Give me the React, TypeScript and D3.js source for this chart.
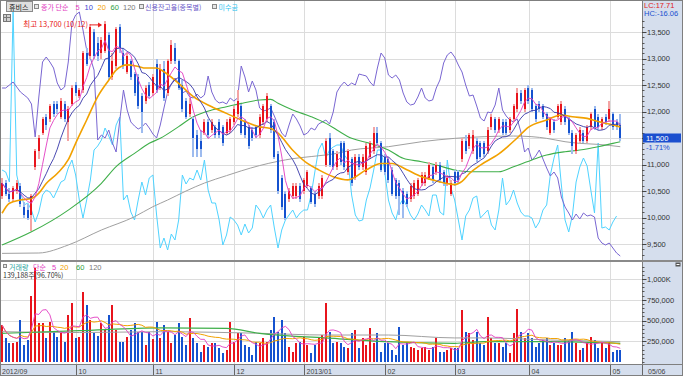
import React from 'react';
import * as d3 from 'd3';

const MONTH_LABELS = ['2012/09', '10', '11', '12', '2013/01', '02', '03', '04', '05'];
const MONTH_START = [0, 21, 42, 64, 83, 105, 124, 144, 166];
const LAST_DATE = '05/06';

const PRICE_TICKS = [9500, 10000, 10500, 11000, 11500, 12000, 12500, 13000, 13500];
const VOLUME_TICKS = [250, 500, 750, 1000];
const VOLUME_TICK_LABELS = ['250,000', '500,000', '750,000', '1,000K'];

const OPEN = [
  10400,10650,10450,10350,10500,10600,10200,10150,10050,10950,
  11250,11600,11900,11850,12150,12150,11900,12150,11800,12150,
  12500,12300,12400,13100,13050,13500,13300,13100,13150,13450,
  12650,12850,13600,13100,12750,12950,12700,12650,12300,12200,
  12500,12350,12900,12450,12800,12350,12950,13200,12950,12500,
  12200,11950,11850,11550,11450,11600,11800,11650,11700,11800,
  11700,11600,11650,11800,11950,12100,11800,11700,11650,11700,
  11550,11800,11850,12100,11800,11200,10750,10450,10350,10400,
  10400,10600,10500,10600,10550,10450,10400,10400,11000,11500,
  11250,10950,11400,11400,10850,11100,10750,11150,10950,10850,
  11150,11250,11600,11400,11150,11100,10900,10700,10650,10500,
  10450,10350,10400,10450,10650,10650,10750,10950,10850,11000,
  10850,10650,10450,10850,10850,11100,11450,11350,11250,11450,
  11400,11400,11250,11700,11850,11650,11800,11800,11650,11850,
  12050,12350,12050,12450,12400,12100,12150,12100,11950,11600,
  11800,11900,11800,12050,11850,11600,11250,11450,11600,11450,
  11700,12050,11900,11700,11900,11850,11950,11800,11750,
];
const CLOSE = [
  10650,10450,10350,10550,10650,10250,10050,10000,10400,11250,
  11500,11850,11750,12100,11950,12050,12200,11850,12050,12450,
  12350,12400,13100,12900,13600,13050,13050,13350,13650,12650,
  12950,13550,13200,12850,13050,12650,12350,12100,12000,12450,
  12300,12650,12400,12800,12250,12950,13250,12950,12450,12050,
  11900,12150,11500,11300,11300,11800,11550,11800,11550,11550,
  11400,11800,11850,12050,12200,11600,11550,11350,11500,11550,
  11900,12100,12300,11650,11150,10500,10200,10000,10500,10600,
  10600,10350,10700,10850,10300,10250,10600,10750,11450,11000,
  10950,11200,11050,10950,11250,10650,11150,10950,11150,11350,
  11400,11600,11400,10900,10850,10700,10450,10400,10400,10250,
  10250,10600,10650,10700,10800,10800,11000,10700,11000,10700,
  10650,10750,10650,10650,10700,11450,11250,11550,11550,11100,
  11150,11200,11650,11900,11650,11850,11600,11600,11850,12100,
  12350,12200,12400,12200,12050,11850,12050,11900,11700,11850,
  11650,12100,12150,11800,11600,11350,11550,11650,11450,11700,
  11950,11700,11700,11850,11800,12050,11700,11700,11500,
];
const HIGH = [
  10750,10700,10550,10600,10700,10650,10300,10250,10450,11300,
  11550,11900,11950,12150,12200,12200,12250,12200,12100,12500,
  12550,12450,13150,13200,13650,13550,13400,13400,13700,13500,
  13100,13600,13650,13200,13100,13000,12750,12700,12350,12500,
  12550,12700,13000,12900,12950,13000,13350,13300,13000,12600,
  12250,12250,11900,11650,11650,11850,11850,11850,11750,11850,
  11750,11850,11900,12100,12400,12150,11850,11750,11700,11750,
  11950,12150,12350,12150,11850,11250,10800,10500,10550,10650,
  10650,10650,10750,10900,10600,10500,10650,10800,11500,11600,
  11300,11250,11450,11450,11300,11150,11200,11200,11200,11400,
  11450,11700,11700,11450,11200,11150,10950,10750,10700,10550,
  10500,10650,10700,10750,10850,10850,11050,11000,11050,11050,
  10900,10800,10700,10900,10900,11500,11550,11600,11650,11500,
  11450,11450,11700,11950,11900,11900,11850,11850,11900,12150,
  12450,12400,12450,12500,12450,12150,12200,12150,12000,11900,
  11850,12150,12200,12100,11900,11650,11600,11700,11650,11750,
  12000,12100,11950,11900,11950,12200,12000,11850,11950,
];
const LOW = [
  10350,10400,10300,10300,10450,10200,10000,9950,9750,10900,
  11100,11550,11650,11800,11900,11950,11850,11800,11450,12100,
  12300,12250,12350,12850,13000,13000,12950,13000,13100,12600,
  12600,12800,13100,12800,12700,12600,12300,12050,11600,12150,
  12250,12300,12350,12400,12200,12300,12900,12900,12400,12000,
  11850,11900,11150,11150,11150,11550,11500,11600,11500,11500,
  11350,11550,11600,11750,11900,11550,11500,11300,11450,11500,
  11500,11750,11800,11600,11100,10450,10150,9950,10300,10350,
  10350,10300,10450,10550,10250,10200,10350,10350,10950,10950,
  10900,10900,11000,10900,10800,10600,10700,10900,10900,10800,
  11100,11200,11350,10850,10800,10650,10400,10350,10050,10000,
  10200,10300,10350,10400,10600,10600,10700,10650,10800,10650,
  10600,10600,10400,10600,10650,11050,11200,11300,11200,11050,
  11100,11150,11200,11650,11600,11600,11550,11550,11600,11800,
  12000,12150,12000,12150,12000,11800,12000,11850,11650,11550,
  11600,11850,11750,11750,11550,11200,11200,11400,11400,11400,
  11650,11650,11650,11650,11750,11800,11650,11650,11450,
];
// thousand shares
const VOLUME = [
  446,289,229,229,235,506,205,265,795,1130,
  470,470,289,482,361,305,345,245,566,711,
  289,305,843,687,506,353,313,470,385,566,
  687,385,237,245,305,385,466,361,361,205,
  361,277,482,285,446,365,225,325,466,305,
  205,526,285,225,124,205,185,225,225,165,
  105,145,486,245,346,346,205,185,85,245,
  225,285,245,386,546,365,506,346,185,124,
  225,245,305,205,105,205,305,325,711,365,
  225,245,225,185,165,346,386,165,285,205,
  406,225,346,124,225,225,145,85,426,205,
  225,185,165,145,165,185,145,185,285,124,
  124,145,165,165,165,627,365,346,265,365,
  225,205,546,285,225,225,185,225,105,346,
  637,365,285,346,285,185,225,265,285,205,
  225,205,205,285,265,365,225,145,165,225,
  305,265,165,225,165,245,124,145,145,
];
// 신용잔고율 (index units of the overlay scale)
const CREDIT = [
  172,172,175,178,173,168,165,162,156,123,
  163,198,203,198,192,177,170,173,198,237,
  245,248,230,210,202,190,120,125,122,130,
  117,108,140,170,150,138,134,131,133,137,
  132,126,122,135,152,168,176,182,177,167,
  169,163,162,166,162,165,184,168,160,157,
  158,156,162,159,162,194,183,168,179,170,
  152,149,150,152,144,135,127,123,135,146,
  141,134,125,127,132,130,136,138,140,136,
  148,168,174,178,174,177,175,186,185,184,
  178,174,192,207,202,185,182,185,180,167,
  158,155,156,163,172,162,159,160,172,180,
  197,205,208,203,195,188,175,164,165,154,
  142,139,148,147,155,172,150,144,140,138,
  141,128,108,112,100,104,110,101,92,84,
  88,82,63,53,47,40,46,41,47,44,
  45,43,22,17,15,17,12,7,4,
];
// 미수금 (index units of the overlay scale)
const UNPAID: (number | null)[] = [
  90,88,78,250,85,68,55,57,50,38,
  48,65,70,68,62,70,78,80,92,100,
  85,60,42,60,80,110,114,120,132,124,
  115,135,143,60,65,48,40,60,78,65,
  82,85,45,12,22,10,26,20,40,85,
  76,82,80,90,80,100,70,57,57,40,
  15,25,43,40,35,25,36,27,32,55,
  50,42,50,55,32,12,30,40,45,50,
  42,47,50,50,65,88,110,117,102,110,
  113,115,115,105,100,65,45,39,40,60,
  72,90,110,110,88,60,47,40,55,61,
  54,45,40,46,55,50,44,65,65,48,
  45,100,72,60,40,20,44,50,62,64,
  42,46,50,35,30,50,82,55,60,70,
  57,48,44,44,42,32,38,50,55,85,
  102,115,75,40,28,45,78,93,102,94,
  70,47,117,32,33,30,38,44,null,
];
// moving averages: [candle index, value]
const MA20_PTS: [number, number][] = [
  [0,10080],[2,10270],[5,10330],[8,10360],[10,10460],[12,10640],[15,10830],[18,11090],[20,11400],
  [23,11840],[26,12280],[29,12590],[31,12780],[34,12880],[37,12850],[39,12820],[42,12820],[44,12750],
  [48,12530],[52,12280],[57,12090],[61,11965],[65,11840],[70,11710],[73,11680],[75,11590],[79,11270],
  [83,11020],[86,10900],[90,10770],[94,10710],[99,10900],[103,11020],[106,11020],[110,10900],[114,10770],
  [117,10710],[121,10640],[123,10620],[125,10680],[127,10830],[130,10990],[135,11200],[140,11500],
  [143,11700],[148,11840],[152,11935],[155,11900],[159,11870],[162,11810],[166,11745],[168,11710],
];
const MA60_PTS: [number, number][] = [
  [0,9480],[8,9730],[18,10140],[27,10645],[31,10960],[36,11210],[40,11400],[43,11494],[48,11714],
  [52,11902],[57,12028],[61,12091],[65,12154],[70,12217],[73,12229],[75,12154],[79,12028],[84,11902],
  [88,11776],[91,11651],[95,11494],[100,11399],[105,11273],[109,11116],[114,11053],[118,10990],
  [123,10896],[127,10864],[131,10864],[135,10864],[139,10959],[144,11085],[148,11179],[153,11242],
  [157,11273],[162,11336],[166,11399],[168,11430],
];
const MA120_PTS: [number, number][] = [
  [0,9323],[10,9330],[18,9481],[27,9764],[36,10015],[41,10204],[45,10330],[50,10500],[55,10650],
  [61,10790],[65,10880],[70,10980],[75,11060],[79,11110],[84,11150],[88,11180],[91,11210],[95,11273],
  [105,11336],[114,11430],[123,11493],[131,11525],[139,11537],[144,11525],[148,11493],[153,11430],
  [157,11399],[162,11380],[168,11336],
];
const VMA60_PTS: [number, number][] = [
  [0,345],[21,377],[43,410],[61,405],[70,345],[88,290],[105,245],[123,225],[131,245],[149,245],[168,225],
];
const VMA120_PTS: [number, number][] = [
  [0,365],[21,355],[43,365],[70,346],[88,325],[105,325],[123,290],[131,290],[149,265],[168,245],
];

const HIGH_LABEL = '최고 13,700 (10/12)';
const HIGH_INDEX = 28;
const LC_TEXT = 'LC:17.71';
const HC_TEXT = 'HC:-16.06';
const LAST_PRICE_TEXT = '11,500';
const CHANGE_TEXT = '-1.71%';
const VOLUME_INFO = '139,188주(96.70%)';

const C = {
  up: '#e8141c', upLight: '#f4a3a3', down: '#1552cf', downLight: '#9dbbef',
  ma5: '#e23cc2', ma10: '#3535a8', ma20: '#f2a100', ma60: '#3faf4a', ma120: '#a0a0a0',
  credit: '#7966d2', unpaid: '#4fd3ff', grid: '#dcdcdc', axisBg: '#d5deed', frame: '#7f7f7f',
  text: '#333333',
};

export default function App() {
  const N = CLOSE.length;
  const SLOTS = 174;
  const PLOT_R = 642;
  const x = d3.scaleBand<number>().domain(d3.range(SLOTS)).range([0.2, 640.5]).paddingInner(0.35).paddingOuter(0.175);
  const bw = x.bandwidth();
  const cx = (i: number) => (x(i) as number) + bw / 2;
  const bx = (i: number) => Math.round(cx(i) - 1);
  const gx = (i: number) => Math.floor((x(i) as number) - 1.6) + 0.5;
  const py = d3.scaleLinear().domain([9500, 13500]).range([244, 32]);
  const vy = d3.scaleLinear().domain([0, 1000]).range([362, 279]);
  const oy = d3.scaleLinear().domain([0, 260]).range([260, 0]);

  const sma = (arr: number[], n: number) =>
    arr.map((_, i) => d3.mean(arr.slice(Math.max(0, i - n + 1), i + 1)) as number);
  const ma5 = sma(CLOSE, 5);
  const ma10 = sma(CLOSE, 10);
  const vma5 = sma(VOLUME, 5);
  const vma20 = sma(VOLUME, 20);

  const seriesPath = (vals: (number | null)[], ys: (v: number) => number) =>
    d3.line<number | null>().defined((v) => v != null).x((_, i) => cx(i)).y((v) => ys(v as number))(vals) || '';
  const ptsPath = (pts: [number, number][], ys: (v: number) => number) =>
    d3.line<[number, number]>().x((d) => cx(d[0])).y((d) => ys(d[1])).curve(d3.curveMonotoneX)(pts) || '';

  const minorPrice = d3.range(9200, 14100, 100).filter((v) => py(v) > 20 && py(v) < 258);
  const minorVol = d3.range(0, 1200, 50).filter((v) => vy(v) > 266);

  const kr = "'Noto Sans CJK KR', 'Liberation Sans', sans-serif";
  const num = "'Liberation Sans', 'Noto Sans CJK KR', sans-serif";

  const hx = cx(HIGH_INDEX);
  const hy = py(HIGH[HIGH_INDEX]);

  return (
    <svg width={683} height={376} style={{ position: 'absolute', left: 0, top: 0, background: '#fff' }}
      fontFamily={num}>
      <defs>
        <clipPath id="pc"><rect x={0} y={0} width={PLOT_R} height={260} /></clipPath>
        <clipPath id="vc"><rect x={0} y={262} width={PLOT_R} height={102} /></clipPath>
      </defs>
      <rect x={0} y={0} width={683} height={376} fill="#fff" />

      {/* grid */}
      {PRICE_TICKS.map((t) => (
        <line key={'hg' + t} x1={0} x2={PLOT_R} y1={Math.round(py(t)) + 0.5} y2={Math.round(py(t)) + 0.5} stroke={C.grid} />
      ))}
      {VOLUME_TICKS.map((t) => (
        <line key={'vg' + t} x1={0} x2={PLOT_R} y1={Math.round(vy(t)) + 0.5} y2={Math.round(vy(t)) + 0.5} stroke={C.grid} />
      ))}
      {MONTH_START.slice(1).map((m) => (
        <g key={'mg' + m}>
          <line x1={gx(m)} x2={gx(m)} y1={0} y2={260} stroke={C.grid} />
          <line x1={gx(m)} x2={gx(m)} y1={262} y2={364} stroke={C.grid} />
        </g>
      ))}

      {/* price panel */}
      <g clipPath="url(#pc)">
        <path d={seriesPath(UNPAID, oy)} fill="none" stroke={C.unpaid} strokeWidth={1} />
        <path d={seriesPath(CREDIT, oy)} fill="none" stroke={C.credit} strokeWidth={1} />
        <path d={ptsPath(MA120_PTS, py)} fill="none" stroke={C.ma120} strokeWidth={1} />
        <path d={ptsPath(MA60_PTS, py)} fill="none" stroke={C.ma60} strokeWidth={1.1} />
        {d3.range(N).map((i) => {
          const up = CLOSE[i] >= OPEN[i];
          const top = py(Math.max(OPEN[i], CLOSE[i]));
          const bot = py(Math.min(OPEN[i], CLOSE[i]));
          return (
            <g key={'c' + i} shapeRendering="crispEdges">
              <rect x={bx(i)} y={py(HIGH[i])} width={2} height={Math.max(1, py(LOW[i]) - py(HIGH[i]))}
                fill={up ? C.upLight : C.downLight} />
              <rect x={bx(i)} y={top} width={2} height={Math.max(1, bot - top)} fill={up ? C.up : C.down} />
            </g>
          );
        })}
        <path d={ptsPath(MA20_PTS, py)} fill="none" stroke={C.ma20} strokeWidth={1.6} />
        <path d={seriesPath(ma10, py)} fill="none" stroke={C.ma10} strokeWidth={0.9} />
        <path d={seriesPath(ma5, py)} fill="none" stroke={C.ma5} strokeWidth={0.9} />
      </g>

      {/* high marker */}
      <text x={hx - 17} y={hy + 6} textAnchor="end" fontSize={7.5} fill="#e82020" fontFamily={kr}>{HIGH_LABEL}</text>
      <line x1={hx - 15} x2={hx - 4} y1={hy + 3.5} y2={hy + 3.5} stroke="#e82020" strokeWidth={1} />
      <path d={`M${hx - 3},${hy + 3.5} l-4,-2.5 l0,5 z`} fill="#e82020" />

      {/* volume panel */}
      <g clipPath="url(#vc)">
        {d3.range(N).map((i) => {
          const up = CLOSE[i] >= OPEN[i];
          return (
            <rect key={'v' + i} x={bx(i)} y={vy(VOLUME[i])} width={2} height={vy(0) - vy(VOLUME[i])}
              fill={up ? C.up : C.down} shapeRendering="crispEdges" />
          );
        })}
        <path d={ptsPath(VMA120_PTS, vy)} fill="none" stroke={C.ma120} strokeWidth={1} />
        <path d={ptsPath(VMA60_PTS, vy)} fill="none" stroke={C.ma60} strokeWidth={1.2} />
        <path d={seriesPath(vma20, vy)} fill="none" stroke={C.ma20} strokeWidth={1} />
        <path d={seriesPath(vma5, vy)} fill="none" stroke={C.ma5} strokeWidth={0.9} />
      </g>

      {/* legends */}
      <rect x={6.5} y={1.5} width={26} height={10} fill="#dedede" stroke="#8a8a8a" />
      <text x={9} y={9.8} fontSize={7} fontFamily={kr} fill="#111">휴비스</text>
      <rect x={34.5} y={4.5} width={4} height={4} fill="#e6e6e6" stroke="#888" />
      <text x={41} y={9.8} fontSize={7} fontFamily={kr} fill={C.ma5}>종가 단순</text>
      <text x={75.5} y={9.8} fontSize={7.5} fill={C.ma5}>5</text>
      <text x={84.5} y={9.8} fontSize={7.5} fill="#3c46d2">10</text>
      <text x={97.5} y={9.8} fontSize={7.5} fill={C.ma20}>20</text>
      <text x={110.5} y={9.8} fontSize={7.5} fill="#30a040">60</text>
      <text x={123} y={9.8} fontSize={7.5} fill="#7a7a7a">120</text>
      <rect x={139.5} y={4.5} width={4} height={4} fill="#e6e6e6" stroke="#888" />
      <text x={145} y={9.8} fontSize={7} fontFamily={kr} fill="#6a58c8">신용잔고율(종목별)</text>
      <rect x={212.5} y={4.5} width={4} height={4} fill="#e6e6e6" stroke="#888" />
      <text x={218.5} y={9.8} fontSize={7} fontFamily={kr} fill="#2ec4f0">미수금</text>
      <rect x={3.5} y={14.5} width={7} height={7} fill="#cfcfcf" stroke="#777" />
      <line x1={3.5} x2={10.5} y1={17.5} y2={17.5} stroke="#777" />
      <line x1={6.5} x2={6.5} y1={14.5} y2={21.5} stroke="#777" />

      <rect x={3.5} y={264.5} width={3} height={3} fill="#e6e6e6" stroke="#888" />
      <text x={9} y={269.5} fontSize={7} fontFamily={kr} fill="#2aa3a0">거래량</text>
      <text x={33} y={269.5} fontSize={7} fontFamily={kr} fill={C.ma5}>단순</text>
      <text x={52} y={269.5} fontSize={7.5} fill={C.ma5}>5</text>
      <text x={60} y={269.5} fontSize={7.5} fill={C.ma20}>20</text>
      <text x={76} y={269.5} fontSize={7.5} fill="#30a040">60</text>
      <text x={89} y={269.5} fontSize={7.5} fill="#7a7a7a">120</text>
      <text x={3} y={278} fontSize={7} fontFamily={kr} fill="#333">{VOLUME_INFO}</text>

      {/* right axis panel */}
      <rect x={642} y={0} width={41} height={376} fill={C.axisBg} />
      <line x1={642.5} x2={642.5} y1={0} y2={376} stroke={C.frame} />
      {minorPrice.map((v) => (
        <line key={'mp' + v} x1={642} x2={644.5} y1={Math.round(py(v)) + 0.5} y2={Math.round(py(v)) + 0.5} stroke="#555" />
      ))}
      {PRICE_TICKS.map((t) => (
        <g key={'pt' + t}>
          <line x1={642} x2={646.5} y1={Math.round(py(t)) + 0.5} y2={Math.round(py(t)) + 0.5} stroke="#444" />
          <text x={647} y={py(t) + 2.8} fontSize={7.5} fill={C.text}>{d3.format(',')(t)}</text>
        </g>
      ))}
      {minorVol.map((v) => (
        <line key={'mv' + v} x1={642} x2={644.5} y1={Math.round(vy(v)) + 0.5} y2={Math.round(vy(v)) + 0.5} stroke="#555" />
      ))}
      {VOLUME_TICKS.map((t, k) => (
        <g key={'vt' + t}>
          <line x1={642} x2={646.5} y1={Math.round(vy(t)) + 0.5} y2={Math.round(vy(t)) + 0.5} stroke="#444" />
          <text x={647} y={vy(t) + 2.8} fontSize={7.5} fill={C.text}>{VOLUME_TICK_LABELS[k]}</text>
        </g>
      ))}
      <text x={644} y={7.5} fontSize={7.5} fill="#e02020">{LC_TEXT}</text>
      <text x={644} y={16} fontSize={7.5} fill="#2050d0">{HC_TEXT}</text>
      <rect x={643} y={py(CLOSE[N - 1]) - 4.5} width={38} height={9} fill="#1b4fcf" />
      <text x={646} y={py(CLOSE[N - 1]) + 2.8} fontSize={7.5} fill="#fff">{LAST_PRICE_TEXT}</text>
      <text x={646} y={py(CLOSE[N - 1]) + 12} fontSize={7.5} fill="#2050d0">{CHANGE_TEXT}</text>
      <rect x={675.5} y={262.5} width={5} height={4} fill="#555" />
      <line x1={676.5} x2={679.5} y1={264.5} y2={264.5} stroke="#fff" />

      {/* panel separator */}
      <rect x={0} y={260} width={683} height={2} fill="#8a8a8a" />

      {/* bottom date strip */}
      <rect x={0} y={365} width={683} height={11} fill={C.axisBg} />
      <line x1={0} x2={683} y1={364.5} y2={364.5} stroke={C.frame} />
      {MONTH_START.map((m, k) => (
        <g key={'ml' + m}>
          {k > 0 && <line x1={gx(m)} x2={gx(m)} y1={365} y2={376} stroke="#666" />}
          <text x={k > 0 ? gx(m) + 2 : 2} y={373.5} fontSize={7} fill="#444">{MONTH_LABELS[k]}</text>
        </g>
      ))}
      <line x1={642.5} x2={642.5} y1={365} y2={376} stroke="#666" />
      <text x={648} y={373.5} fontSize={7} fill="#444">{LAST_DATE}</text>

      {/* frame */}
      <rect x={0.5} y={0.5} width={682} height={375} fill="none" stroke={C.frame} />
    </svg>
  );
}
